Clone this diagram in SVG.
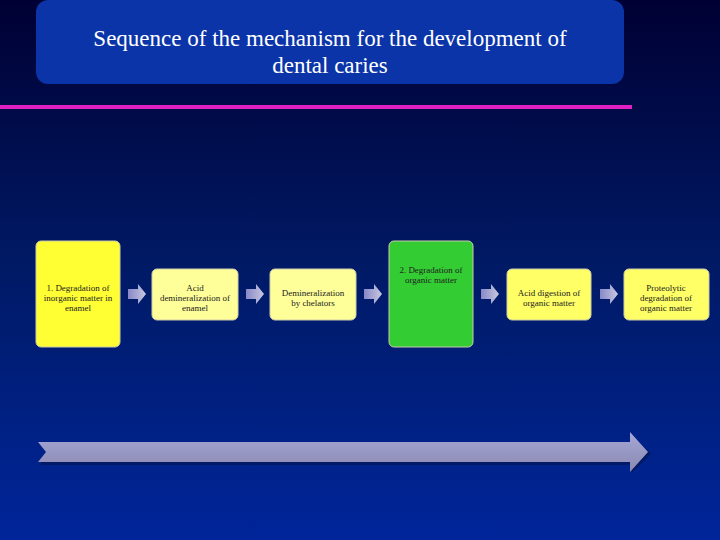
<svg xmlns="http://www.w3.org/2000/svg" width="720" height="540" viewBox="0 0 720 540">
<defs>
<linearGradient id="bg" x1="0" y1="0" x2="0" y2="1"><stop offset="0" stop-color="#000033"/><stop offset="0.5" stop-color="#001a66"/><stop offset="1" stop-color="#00259a"/></linearGradient>
<linearGradient id="ag" x1="0" y1="0" x2="0" y2="1"><stop offset="0" stop-color="#a8a8d8"/><stop offset="1" stop-color="#8888b0"/></linearGradient>
<linearGradient id="sg" x1="0" y1="0" x2="1" y2="0"><stop offset="0" stop-color="#8888c8"/><stop offset="1" stop-color="#c8c8e0"/></linearGradient>
<path id="sa" d="M0,5 H10 V0 L18,10 L10,20 V15 H0 Z"/>
</defs>
<style>
.t{font-family:"Liberation Serif",serif;font-size:9px;fill:#222;text-anchor:middle}
.b{stroke:#ccccaa;stroke-width:1}
</style>
<rect width="720" height="540" fill="url(#bg)"/>
<g id="title">
<rect x="36" y="0" width="588" height="84" rx="12" fill="#0a34a8"/>
<text x="330" y="46" font-family="Liberation Serif,serif" font-size="23" fill="#fff" text-anchor="middle">Sequence of the mechanism for the development of</text>
<text x="330" y="73" font-family="Liberation Serif,serif" font-size="23" fill="#fff" text-anchor="middle">dental caries</text>
</g>
<rect x="0" y="105" width="632" height="4" fill="#e020c0"/>
<g id="n1"><rect class="b" x="36" y="241" width="84" height="106" rx="5" fill="#ffff33"/>
<text class="t" x="78" y="291">1. Degradation of</text><text class="t" x="78" y="301">inorganic matter in</text><text class="t" x="78" y="311">enamel</text></g>
<g id="n2"><rect class="b" x="152" y="269" width="86" height="51" rx="5" fill="#ffff99"/>
<text class="t" x="195" y="291">Acid</text><text class="t" x="195" y="301">demineralization of</text><text class="t" x="195" y="311">enamel</text></g>
<g id="n3"><rect class="b" x="270" y="269" width="86" height="51" rx="5" fill="#ffff99"/>
<text class="t" x="313" y="296">Demineralization</text><text class="t" x="313" y="306">by chelators</text></g>
<g id="n4"><rect class="b" x="389" y="241" width="84" height="106" rx="5" fill="#33cc33"/>
<text class="t" x="431" y="273">2. Degradation of</text><text class="t" x="431" y="283">organic matter</text></g>
<g id="n5"><rect class="b" x="507" y="269" width="84" height="51" rx="5" fill="#ffff66"/>
<text class="t" x="549" y="296">Acid digestion of</text><text class="t" x="549" y="306">organic matter</text></g>
<g id="n6"><rect class="b" x="624" y="269" width="85" height="51" rx="5" fill="#ffff66"/>
<text class="t" x="666" y="291">Proteolytic</text><text class="t" x="666" y="301">degradation of</text><text class="t" x="666" y="311">organic matter</text></g>
<g id="connectors" fill="url(#sg)">
<use href="#sa" x="128" y="284"/><use href="#sa" x="246" y="284"/><use href="#sa" x="364" y="284"/><use href="#sa" x="481" y="284"/><use href="#sa" x="600" y="284"/>
<path d="M40,465 L632,465 V473 L651,454 L632,435 V443 H40 L48,454 Z" fill="#001a66"/>
<path d="M38,462 L630,462 V472 L648,452 L630,432 V442 H38 L46,452 Z" fill="url(#ag)"/>
</g>
</svg>
